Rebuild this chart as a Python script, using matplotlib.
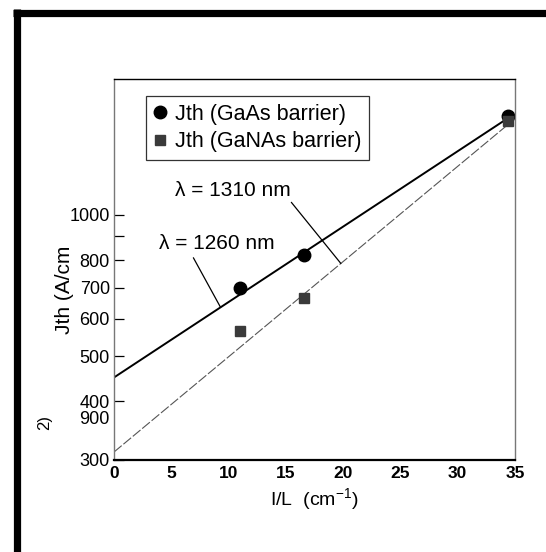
import numpy as np
import matplotlib
matplotlib.use("Agg")
import matplotlib.pyplot as plt
from matplotlib.lines import Line2D

plt.rcParams['font.family'] = ['Liberation Sans', 'DejaVu Sans']

# ---- data ----
x_gaas = [11.0, 16.6, 34.4]
y_gaas = [700, 820, 1625]
x_ganas = [11.0, 16.6, 34.4]
y_ganas = [565, 665, 1590]

fit_x = [0, 34.4]
fit_gaas = [450, 1610]      # lambda = 1260 nm
fit_ganas = [312, 1560]     # lambda = 1310 nm

xticks = [0, 5, 10, 15, 20, 25, 30, 35]
xticklabels = ['0', '5', '10', '15', '20', '25', '30', '35']
yticks = [300, 400, 500, 600, 700, 800, 900, 1000]
yticklabels = ['300', '400', '500', '600', '700', '800', '', '1000']

W, H = 546, 552
fig = plt.figure(figsize=(W / 100, H / 100), dpi=100)
ax = fig.add_axes([114 / W, 1 - 460 / H, (515 - 114) / W, (460 - 79) / H])

ax.set_yscale('log')
ax.set_xlim(0, 35)
ax.set_ylim(300, 1950)

ax.plot(fit_x, fit_gaas, color='black', lw=1.4, solid_capstyle='round')
ax.plot(fit_x, fit_ganas, color='#555555', lw=0.8, dashes=(9, 2))

ax.plot(x_gaas, y_gaas, 'o', color='black', ms=9, label='Jth (GaAs barrier)', clip_on=False)
ax.plot(x_ganas, y_ganas, 's', color='#3a3a3a', ms=6.5, label='Jth (GaNAs barrier)', clip_on=False)

ax.set_yticks(yticks)
ax.set_yticklabels(yticklabels)
ax.yaxis.set_minor_locator(matplotlib.ticker.NullLocator())
ax.tick_params(axis='y', direction='in', length=7.5, width=0.9, labelsize=13, pad=3,
               right=False)
ax.set_xticks(xticks)
ax.set_xticklabels(xticklabels, family=['Liberation Sans Narrow', 'Liberation Sans'],
                   fontweight='bold')
ax.tick_params(axis='x', length=0, labelsize=12.5, pad=4)

for s in ['left', 'right']:
    ax.spines[s].set_color('#777777')
    ax.spines[s].set_linewidth(1.0)
ax.spines['bottom'].set_linewidth(1.6)
ax.spines['top'].set_linewidth(1.0)

ax.set_xlabel('I/L  (cm$^{\\mathregular{-1}}$)', fontsize=14, labelpad=4)
fig.text(64 / W, 1 - 290 / H, 'Jth (A/cm', rotation=90, fontsize=15, ha='center', va='center')
fig.text(45 / W, 1 - 423 / H, '2)', rotation=90, fontsize=12, ha='center', va='center')
fig.text(109 / W, 1 - 420 / H, '900', fontsize=13, ha='right', va='center')

leg = ax.legend(loc='upper left', bbox_to_anchor=(0.08, 0.955), fontsize=15.5,
                frameon=True, fancybox=False, edgecolor='black', handlelength=0.6,
                handletextpad=0.4, borderpad=0.35, labelspacing=0.3, borderaxespad=0)
leg.get_frame().set_linewidth(0.9)


def on_line(xv, xs, ys):
    return 10 ** np.interp(xv, xs, np.log10(ys))

ax.annotate('λ = 1310 nm', xy=(19.8, on_line(19.8, fit_x, fit_ganas)), xytext=(10.4, 1130),
            ha='center', va='center', fontsize=15,
            arrowprops=dict(arrowstyle='-', lw=0.9, color='black', relpos=(0.97, 0.1),
                            shrinkA=0, shrinkB=0))
ax.annotate('λ = 1260 nm', xy=(9.3, on_line(9.3, fit_x, fit_gaas)), xytext=(9.0, 871),
            ha='center', va='center', fontsize=15,
            arrowprops=dict(arrowstyle='-', lw=0.9, color='black', relpos=(0.27, 0.0),
                            shrinkA=2, shrinkB=0))

# scanned-page frame
fig.add_artist(Line2D([16.5 / W, 16.5 / W], [0, 1 - 9 / H], color='black', lw=5.2,
                      transform=fig.transFigure, solid_capstyle='butt'))
fig.add_artist(Line2D([13 / W, 1], [1 - 12.5 / H, 1 - 12.5 / H], color='black', lw=5.2,
                      transform=fig.transFigure, solid_capstyle='butt'))

fig.savefig('out.png', dpi=100)
